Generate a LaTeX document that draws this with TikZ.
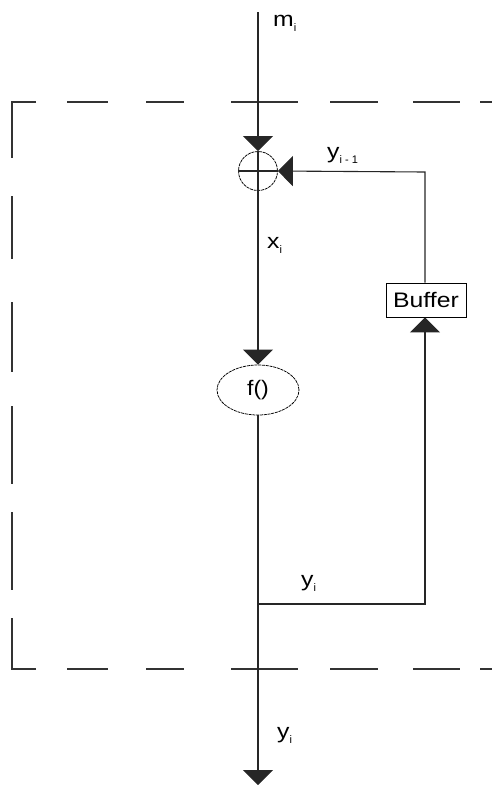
\documentclass[tikz,border=0pt]{standalone}
\usepackage{fontspec}
\setmainfont{Liberation Sans}
\usetikzlibrary{arrows.meta,shapes.geometric}
\newcommand{\sbs}[1]{\raisebox{-5pt}{\fontsize{11}{11}\selectfont #1}}
\newcommand{\wtxt}[1]{\scalebox{1.18}[1]{#1}}
\begin{document}
\begin{tikzpicture}[x=1pt,y=-1pt,
  wire/.style={line width=1.1pt, black!85},
  arr/.style={wire, -{Triangle[width=30pt,length=15pt]}},
  frame/.style={line width=1.1pt, black!80},
  thinshape/.style={draw=black, line width=0.75pt, dash pattern=on 3pt off 0.8pt},
  lbl/.style={inner sep=0pt, anchor=base west, font=\fontsize{21}{23}\selectfont},
  boxtxt/.style={font=\fontsize{21}{23}\selectfont}
]
\useasboundingbox (0,0) rectangle (492,785);
% dashed frame drawn as explicit dashes
\foreach \a/\b in {67/108,146/184,231/298,330/378,413/460,480/492}{
  \draw[frame] (\a,102) -- (\b,102);
  \draw[frame] (\a,669) -- (\b,669);
}
\draw[frame] (36,102) -- (12,102) -- (12,158);
\draw[frame] (36,669) -- (12,669) -- (12,618);
\foreach \a/\b in {196/259,302/372,406/484,512/590}{
  \draw[frame] (12,\a) -- (12,\b);
}
% nodes
\coordinate (mtop) at (258,12);
\node[circle, thinshape, minimum size=39pt, inner sep=0pt] (xor) at (258,171) {};
\node[ellipse, thinshape, minimum width=82pt, minimum height=50pt, inner sep=0pt, boxtxt] (f) at (258,390) {\scalebox{1.1}[1]{f()}};
\node[rectangle, draw=black, line width=0.9pt, minimum width=80pt, minimum height=34pt, inner sep=0pt, boxtxt] (buf) at (426,300) {\wtxt{Buffer}};
\coordinate (tr) at (425,172);
\coordinate (br) at (425,604);
\coordinate (junc) at (258,604);
\coordinate (bot) at (258,785);
% connectors
\draw[arr] (mtop) -- (xor.north);
\draw[wire] (xor.north) -- (xor.south);
\draw[wire] (xor.west) -- (xor.east);
\draw[arr] (xor.south) -- (f.north);
\draw[arr] (f.south) -- (bot);
\draw[arr] (junc) -- (br) -- (buf.south -| br);
\draw[arr] (buf.north -| tr) -- (tr) -- (xor.east);
% labels
\node[lbl] (lm) at (273,26) {\wtxt{m}\sbs{i}};
\node[lbl] (ly1) at (327,158) {\wtxt{y}\sbs{i - 1}};
\node[lbl] (lx) at (267,248) {\wtxt{x}\sbs{i}};
\node[lbl] (ly2) at (301,586) {\wtxt{y}\sbs{i}};
\node[lbl] (ly3) at (277,738) {\wtxt{y}\sbs{i}};
\end{tikzpicture}
\end{document}
